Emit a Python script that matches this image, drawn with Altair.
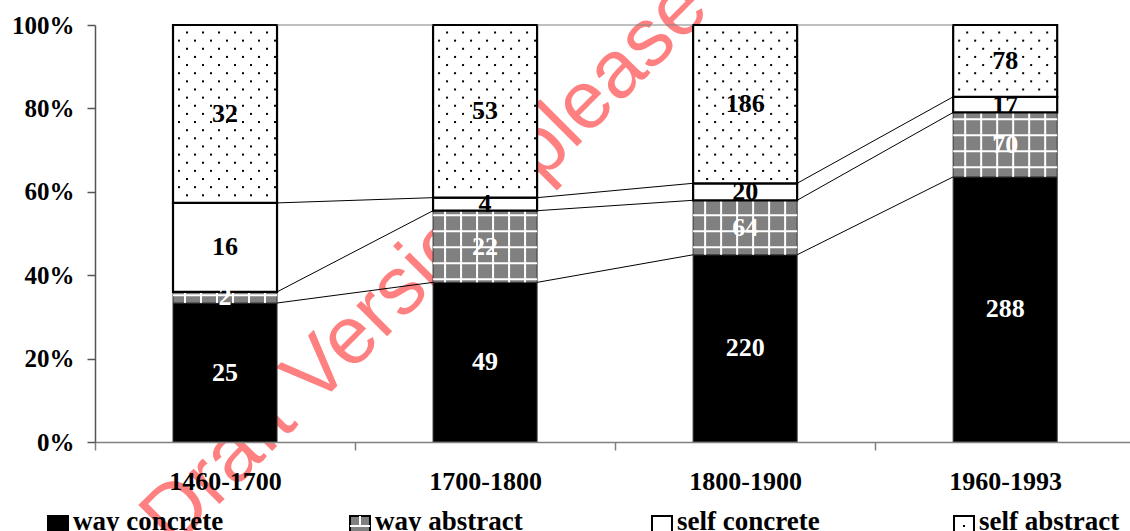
import altair as alt
import pandas as pd

# ---- data -----------------------------------------------------------------
periods = ["1460-1700", "1700-1800", "1800-1900", "1960-1993"]
series = ["way concrete", "way abstract", "self concrete", "self abstract"]
way_concrete = [25, 49, 220, 288]
way_abstract = [2, 22, 64, 70]
self_concrete = [16, 4, 20, 17]
self_abstract = [32, 53, 186, 78]
y_ticks = [0, 0.2, 0.4, 0.6, 0.8, 1.0]
watermark = "Draft Version, please"

counts = [way_concrete, way_abstract, self_concrete, self_abstract]

# ---- geometry ---------------------------------------------------------------
LEFT, TOP = 95, 25            # plot origin inside the page
W, H = 1035, 417              # plot area
X_MAX = 3.98                  # category steps visible on the x scale
PX = W / X_MAX                # pixels per category step
BAR_L, BAR_R = 0.3, 0.7       # bar extent inside a step
BAR_W = (BAR_R - BAR_L) * PX
SERIF = "Liberation Serif"


def xd(px):
    """page x pixel -> x data value"""
    return (px - LEFT) / PX


def yd(py):
    """page y pixel -> y data value"""
    return (TOP + H - py) / H


# stacked shares
seg_rows = []
cum = []
for i, p in enumerate(periods):
    total = sum(c[i] for c in counts)
    acc = 0
    bounds = []
    for s, c in zip(series, counts):
        y0 = acc / total
        acc += c[i]
        y1 = acc / total
        bounds.append(y1)
        seg_rows.append(dict(period=p, series=s, n=c[i],
                             x=i + BAR_L, x2=i + BAR_R, y=y0, y2=y1,
                             xc=i + 0.5, mid=(y0 + y1) / 2))
    cum.append(bounds)
seg = pd.DataFrame(seg_rows)

# connector lines between neighbouring bars
con_rows = []
for i in range(len(periods) - 1):
    for k in range(4):
        con_rows.append(dict(x=i + BAR_R, x2=i + 1 + BAR_L,
                             y=cum[i][k], y2=cum[i + 1][k], top=(k == 3)))
con = pd.DataFrame(con_rows)

# white lattice inside the "way abstract" blocks
grid_v, grid_h = [], []
for _, r in seg[seg.series == "way abstract"].iterrows():
    for j in range(6):
        off = 12 + 16 * j
        grid_v.append(dict(x=r.x + off / PX, y=r.y, y2=r.y2))
    k = 0
    while True:
        ypx = 2.8 + 16 * k
        if ypx > r.y2 * H - 1:
            break
        if ypx > r.y * H + 1:
            grid_h.append(dict(x=r.x, x2=r.x2, y=ypx / H))
        k += 1
grid_v = pd.DataFrame(grid_v)
grid_h = pd.DataFrame(grid_h)

# dotted texture inside the "self abstract" blocks
dots = []
for _, r in seg[seg.series == "self abstract"].iterrows():
    row = 0
    ypx = r.y2 * H - 7.5
    while ypx > r.y * H + 3:
        off = 14 if row % 2 == 0 else 6
        while off < BAR_W - 1:
            dots.append(dict(x=r.x + off / PX, y=ypx / H))
            off += 16
        row += 1
        ypx -= 8.14
dots = pd.DataFrame(dots)

# ---- scales / axes --------------------------------------------------------
xs = alt.Scale(domain=[0, X_MAX], nice=False, zero=False)
ys = alt.Scale(domain=[0, 1], nice=False)
label_expr = "[" + ",".join(f"'{p}'" for p in periods) + "][datum.value]"
xaxis = alt.Axis(values=[0, 1, 2, 3], labelExpr=label_expr, labelOffset=PX / 2,
                 labelFlush=False, labelOverlap=False, grid=False, title=None,
                 tickSize=8, tickColor="#808080", domainColor="#808080",
                 domainWidth=1.5, tickWidth=1.5, labelFont=SERIF,
                 labelFontWeight="bold", labelFontSize=26, labelColor="black",
                 labelPadding=18, zindex=1)
yaxis = alt.Axis(values=y_ticks, format=".0%", grid=False, title=None,
                 tickSize=8, tickColor="#555555", domainColor="#555555",
                 domainWidth=1.5, tickWidth=1.5, labelFont=SERIF,
                 labelFontWeight="bold", labelFontSize=25, labelColor="black",
                 labelPadding=13, zindex=1)


def X(f):
    return alt.X(f, type="quantitative", scale=xs, axis=xaxis)


def Y(f):
    return alt.Y(f, type="quantitative", scale=ys, axis=yaxis)


# ---- layers -----------------------------------------------------------------
wm = alt.Chart(pd.DataFrame({"t": [watermark]})).mark_text(
    font="Liberation Sans", fontSize=82, angle=315, color="#FF8080",
    align="center", baseline="middle"
).encode(text="t:N", x=alt.value(425 - LEFT), y=alt.value(263 - TOP))

def rects(name, fill, stroke, sw):
    return alt.Chart(seg[seg.series == name]).mark_rect(
        fill=fill, stroke=stroke, strokeWidth=sw
    ).encode(x=X("x"), x2="x2", y=Y("y"), y2="y2")

r_wc = rects("way concrete", "black", "#333333", 1)
r_wa = rects("way abstract", "#808080", "#333333", 1)
r_sc = rects("self concrete", "white", "black", 2.2)
r_sa = rects("self abstract", "white", "black", 2.2)

g_v = alt.Chart(grid_v).mark_rule(color="white", strokeWidth=2).encode(
    x=X("x"), y=Y("y"), y2="y2")
g_h = alt.Chart(grid_h).mark_rule(color="white", strokeWidth=2).encode(
    x=X("x"), x2="x2", y=Y("y"))

dot_layer = alt.Chart(dots).mark_square(size=4, color="black", opacity=1).encode(
    x=X("x"), y=Y("y"))

conn = alt.Chart(con).mark_rule(strokeWidth=1).encode(
    x=X("x"), x2="x2", y=Y("y"), y2="y2",
    color=alt.condition("datum.top", alt.value("#808080"), alt.value("black")))

labels = alt.Chart(seg).mark_text(
    font=SERIF, fontWeight="bold", fontSize=26, baseline="middle", align="center"
).encode(
    x=X("xc"), y=Y("mid"), text="n:Q",
    color=alt.condition("indexof(datum.series, 'way') === 0",
                        alt.value("white"), alt.value("black")))

# ---- legend -----------------------------------------------------------------
leg_rows = []
for k, s in enumerate(series):
    left = 48 + 302 * k
    leg_rows.append(dict(series=s, x=xd(left), x2=xd(left + 20),
                         y=yd(536), y2=yd(516), xm=xd(left + 10), ym=yd(526),
                         tx=xd(left + 25), ty=yd(530)))
leg = pd.DataFrame(leg_rows)
fills = {"way concrete": "black", "way abstract": "#808080",
         "self concrete": "white", "self abstract": "white"}

leg_box = alt.Chart(leg).mark_rect(stroke="black", strokeWidth=2).encode(
    x=X("x"), x2="x2", y=Y("y"), y2="y2",
    fill=alt.Fill("series:N", scale=alt.Scale(domain=series,
                  range=[fills[s] for s in series]), legend=None))
leg_wa = leg[leg.series == "way abstract"]
leg_line = alt.Chart(leg_wa).mark_rule(color="white", strokeWidth=2).encode(
    x=X("x"), x2="x2", y=Y("ym"))
leg_tick = alt.Chart(leg_wa).mark_rule(color="white", strokeWidth=2).encode(
    x=X("xm"), y=Y("ym"), y2="y2")
leg_dot = alt.Chart(leg[leg.series == "self abstract"]).mark_square(
    size=4, color="black", opacity=1).encode(x=X("xm"), y=Y("ym"))
leg_text = alt.Chart(leg).mark_text(
    font=SERIF, fontWeight="bold", fontSize=27, align="left",
    baseline="alphabetic", color="black"
).encode(x=X("tx"), y=Y("ty"), text="series:N")

chart = alt.layer(
    wm, r_wc, r_wa, g_v, g_h, r_sc, r_sa, dot_layer, conn, labels,
    leg_box, leg_line, leg_tick, leg_dot, leg_text
).properties(
    width=W, height=H,
    autosize=alt.AutoSizeParams(type="none"),
    padding={"left": LEFT, "top": TOP, "right": 0, "bottom": 531 - TOP - H},
    background="white",
).configure_view(stroke=None)

chart.save("out.html", embed_options={"renderer": "svg", "actions": False})
